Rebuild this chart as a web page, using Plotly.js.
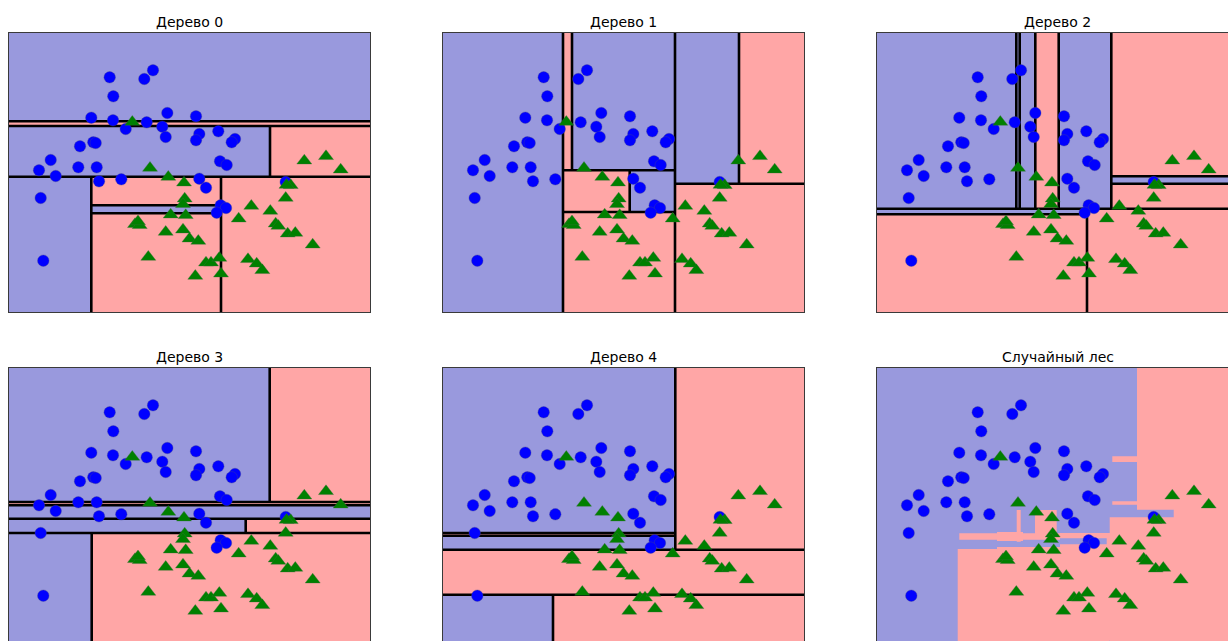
<!DOCTYPE html>
<html><head><meta charset="utf-8">
<script src="https://cdn.plot.ly/plotly-3.0.1.min.js"></script>
<style>html,body{margin:0;padding:0;background:#fff;overflow:hidden}</style>
</head><body><div id="chart" style="width:1228px;height:641px"></div>
<script>
// ---------- data ----------
const titles = ["Дерево 0", "Дерево 1", "Дерево 2", "Дерево 3", "Дерево 4", "Случайный лес"];

// class 0 (blue circles)
const class0X = [10.07,14.40,13.53,10.43,8.23,10.40,11.67,13.77,15.83,15.33,15.67,7.10,8.43,8.67,4.17,3.00,4.67,6.93,8.77,18.70,19.03,18.70,20.93,22.60,22.27,21.10,21.77,19.03,19.70,9.00,11.23,3.17,3.43,27.67,21.17,21.70,20.77];
const class0Y = [23.47,24.17,23.30,21.57,19.43,19.17,18.30,18.97,19.90,18.53,17.50,16.57,16.97,16.90,15.20,14.17,13.60,14.47,14.47,19.57,17.80,17.17,18.07,17.30,16.97,15.07,14.70,13.33,12.43,13.07,13.27,11.40,5.13,13.00,10.67,10.40,9.93];

// class 1 (green triangles)
const class1X = [12.33,14.10,15.93,17.50,17.57,17.40,16.17,17.67,12.60,13.07,15.67,17.40,18.05,13.93,18.93,19.70,20.20,21.03,21.20,18.63,23.90,24.77,25.33,22.97,24.23,26.13,26.67,26.93,27.87,28.63,30.37,28.17,27.67,29.53,31.70,33.17,27.75,12.90];
const class1Y = [19.00,14.40,13.50,12.93,11.33,10.77,9.73,9.67,8.77,8.67,8.00,8.23,7.33,5.50,7.10,4.93,4.93,5.40,3.83,3.60,5.27,4.83,4.17,9.33,10.60,10.10,8.83,8.60,7.83,7.90,6.73,12.67,11.40,15.13,15.57,14.23,12.70,9.05];

// tree leaves: [x0, x1, y0, y1, class]
const tree0Leaves = [[0,36.1,19.07,27.9,0],[0,36.1,18.6,19.07,1],[0,26.1,13.53,18.6,0],[26.1,36.1,13.53,18.6,1],[0,8.23,0,13.53,0],[8.23,21.2,10.67,13.53,1],[8.23,21.2,9.87,10.67,0],[8.23,21.2,0,9.87,1],[21.2,36.1,0,13.53,1]];
const tree0Splits = [[0,19.07,36.1,19.07],[0,18.6,36.1,18.6],[26.1,13.53,26.1,18.6],[0,13.53,36.1,13.53],[8.23,0,8.23,13.53],[21.2,0,21.2,13.53],[8.23,10.67,21.2,10.67],[8.23,9.87,21.2,9.87]];

const tree1Leaves = [[0,12,0,27.9,0],[12,12.9,14.17,27.9,1],[12.9,23.2,14.17,27.9,0],[12,18.67,10,14.17,1],[18.67,23.2,10,14.17,0],[12,23.2,0,10,1],[23.2,29.6,12.83,27.9,0],[29.6,36.1,12.83,27.9,1],[23.2,36.1,0,12.83,1]];
const tree1Splits = [[12,0,12,27.9],[12.9,14.17,12.9,27.9],[12,14.17,23.2,14.17],[23.2,0,23.2,27.9],[18.67,10,18.67,14.17],[12,10,23.2,10],[23.2,12.83,36.1,12.83],[29.6,12.83,29.6,27.9]];

const tree2Leaves = [[0,13.93,10.33,27.9,0],[13.93,14.27,10.33,27.9,0],[14.27,15.83,10.33,27.9,0],[15.83,18.17,10.33,27.9,1],[18.17,23.43,10.33,27.9,0],[23.43,36.1,13.57,27.9,1],[23.43,36.1,12.83,13.57,0],[23.43,36.1,10.33,12.83,1],[0,21,9.77,10.33,0],[0,21,0,9.77,1],[21,36.1,0,10.33,1]];
const tree2Splits = [[0,10.33,36.1,10.33],[0,9.77,21,9.77],[21,0,21,10.33],[13.93,10.33,13.93,27.9],[14.27,10.33,14.27,27.9],[15.83,10.33,15.83,27.9],[18.17,10.33,18.17,27.9],[23.43,10.33,23.43,27.9],[23.43,13.57,36.1,13.57],[23.43,12.83,36.1,12.83]];

const tree3Leaves = [[0,26.07,14.5,27.9,0],[26.07,36.1,14.5,27.9,1],[0,36.1,14.17,14.5,1],[0,36.1,12.83,14.17,0],[0,23.67,11.4,12.83,0],[23.67,36.1,11.4,12.83,1],[0,8.27,0,11.4,0],[8.27,36.1,0,11.4,1]];
const tree3Splits = [[26.07,14.5,26.07,27.9],[0,14.5,36.1,14.5],[0,14.17,36.1,14.17],[0,12.83,36.1,12.83],[23.67,11.4,23.67,12.83],[0,11.4,36.1,11.4],[8.27,0,8.27,11.4]];

const tree4Leaves = [[0,23.23,11.4,27.9,0],[0,23.23,11.13,11.4,1],[0,23.23,9.73,11.13,0],[23.23,36.1,9.73,27.9,1],[0,36.1,5.23,9.73,1],[0,11,0,5.23,0],[11,36.1,0,5.23,1]];
const tree4Splits = [[23.23,9.73,23.23,27.9],[0,11.4,23.23,11.4],[0,11.13,23.23,11.13],[0,9.73,36.1,9.73],[0,5.23,36.1,5.23],[11,0,11,5.23]];

// forest: red regions [x0, x1, y0, y1] on blue background
const forestRed = [[26.0,36.1,13.73,27.9],[23.53,26.0,18.5,19.07],[23.53,26.0,14.23,14.57],[29.67,36.1,12.97,13.73],[23.27,36.1,0,12.97],[15.8,17.97,11.37,13.7],[13.97,14.37,10.53,13.7],[8.23,18.3,10.72,11.38],[18.3,23.27,10.87,11.4],[22.97,23.27,10.27,10.87],[12.0,14.6,10.6,11.5],[8.07,12.0,0,9.8],[12.0,18.3,0,10.0],[18.3,23.27,0,10.27]];

// ---------- drawing ----------
const W = 1228, H = 641;
const BLUE_FILL = '#9999dd', RED_FILL = '#ffa6a6';
const colPx = [[9,370],[443,804],[877,1228]];
const rowPx = [[33,312],[368,641]];
const xRanges = [[0,36.1],[0,36.1],[0,35.1]];
const yRanges = [[0,27.9],[0.6,27.9]];
const treeLeaves = [tree0Leaves, tree1Leaves, tree2Leaves, tree3Leaves, tree4Leaves];
const treeSplits = [tree0Splits, tree1Splits, tree2Splits, tree3Splits, tree4Splits];

const layout = {
  width: W, height: H, margin: {l:0, r:0, t:0, b:0},
  paper_bgcolor: '#ffffff', plot_bgcolor: '#ffffff',
  showlegend: false, shapes: [], annotations: [],
  font: {family: 'DejaVu Sans, sans-serif'}
};
const data = [];

function rectPath(list) {
  return list.map(f => 'M' + f[0] + ',' + f[2] + 'H' + f[1] + 'V' + f[3] + 'H' + f[0] + 'Z').join('');
}

for (let i = 0; i < 6; i++) {
  const r = Math.floor(i / 3), c = i % 3;
  const sfx = i === 0 ? '' : String(i + 1);
  const xa = 'x' + sfx, ya = 'y' + sfx;
  const cutRight = c === 2, cutBottom = r === 1;
  layout['xaxis' + sfx] = {
    domain: [colPx[c][0] / W, colPx[c][1] / W], range: xRanges[c], anchor: ya,
    showgrid: false, zeroline: false, showticklabels: false, ticks: '',
    showline: true, linecolor: '#3a3a3a', linewidth: 1,
    mirror: !cutBottom, side: cutBottom ? 'top' : 'bottom', fixedrange: true
  };
  layout['yaxis' + sfx] = {
    domain: [1 - rowPx[r][1] / H, 1 - rowPx[r][0] / H], range: yRanges[r], anchor: xa,
    showgrid: false, zeroline: false, showticklabels: false, ticks: '',
    showline: true, linecolor: '#3a3a3a', linewidth: 1,
    mirror: !cutRight, fixedrange: true
  };

  if (i < 5) {
    const blues = treeLeaves[i].filter(l => l[4] === 0).map(l => [l[0], l[1], l[2], l[3]]);
    const reds = treeLeaves[i].filter(l => l[4] === 1).map(l => [l[0], l[1], l[2], l[3]]);
    [[blues, BLUE_FILL], [reds, RED_FILL]].forEach(p => {
      if (p[0].length) layout.shapes.push({
        type: 'path', xref: xa, yref: ya, path: rectPath(p[0]), fillrule: 'nonzero',
        fillcolor: p[1], line: {width: 0}, layer: 'below'
      });
    });
    treeSplits[i].forEach(s => layout.shapes.push({
      type: 'line', xref: xa, yref: ya, x0: s[0], y0: s[1], x1: s[2], y1: s[3],
      line: {color: '#000000', width: 2.6}, layer: 'below'
    }));
  } else {
    layout.shapes.push({type: 'rect', xref: xa, yref: ya, x0: 0, x1: 36.1, y0: 0, y1: 27.9,
      fillcolor: BLUE_FILL, line: {width: 0}, layer: 'below'});
    layout.shapes.push({
      type: 'path', xref: xa, yref: ya, path: rectPath(forestRed), fillrule: 'nonzero',
      fillcolor: RED_FILL, line: {width: 0}, layer: 'below'
    });
  }

  data.push({
    type: 'scatter', mode: 'markers', x: class0X, y: class0Y, xaxis: xa, yaxis: ya,
    marker: {symbol: 'circle', size: 11.5, color: '#0000ff', line: {width: 0.6, color: 'rgba(70,70,140,0.6)'}},
    hoverinfo: 'skip'
  });
  data.push({
    type: 'scatter', mode: 'markers', x: class1X, y: class1Y, xaxis: xa, yaxis: ya,
    marker: {symbol: 'triangle-up', size: 13, color: '#008000', line: {width: 0.6, color: 'rgba(60,110,60,0.6)'}},
    hoverinfo: 'skip'
  });

  const cx = (colPx[c][0] + colPx[c][0] + 361) / 2;
  const ty = r === 0 ? 22 : 357;
  layout.annotations.push({
    text: titles[i], xref: 'paper', yref: 'paper', x: cx / W, y: 1 - ty / H,
    xanchor: 'center', yanchor: 'middle', showarrow: false,
    font: {family: 'DejaVu Sans, sans-serif', size: 14, color: '#000000'}
  });
}

Plotly.newPlot('chart', data, layout, {staticPlot: true, displayModeBar: false});
</script>
</body></html>
